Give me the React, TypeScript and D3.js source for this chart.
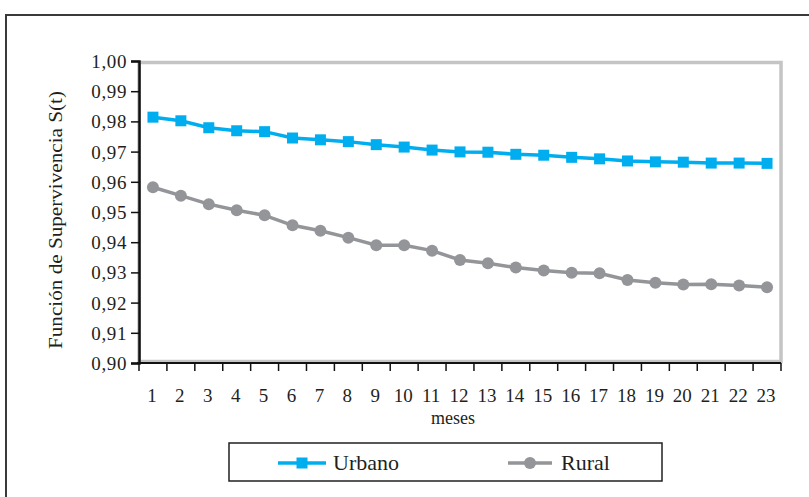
import * as d3 from 'd3';
import { useRef, useEffect } from 'react';

const months = d3.range(1, 24).map(String);
const urbano = [0.9814, 0.9802, 0.9779, 0.9769, 0.9766, 0.9745, 0.9739, 0.9733, 0.9723, 0.9715, 0.9705, 0.9699,
  0.9698, 0.9691, 0.9688, 0.9681, 0.9676, 0.9669, 0.9666, 0.9665, 0.9662, 0.9662, 0.9661];
const rural = [0.9582, 0.9554, 0.9526, 0.9506, 0.9489, 0.9456, 0.9438, 0.9415, 0.939, 0.939, 0.9372, 0.9341,
  0.933, 0.9316, 0.9306, 0.9299, 0.9297, 0.9275, 0.9266, 0.926, 0.9261, 0.9257, 0.9251];
const yTicks = [0.9, 0.91, 0.92, 0.93, 0.94, 0.95, 0.96, 0.97, 0.98, 0.99, 1.0];
const seriesNames = ['Urbano', 'Rural'];

const BLUE = '#00aeef';
const GREY = '#939598';
const FONT = "'Liberation Serif', 'DejaVu Serif', 'Times New Roman', serif";

const Chart = () => {
  const ref: any = useRef();
  const W = 809, H = 497;
  const plot = { left: 139, right: 781, top: 61, bottom: 363 };

  useEffect(() => {
    const svg = d3.select(ref.current);
    svg.selectAll('*').remove();

    const x = d3.scaleBand().domain(months).range([plot.left, plot.right]);
    const y = d3.scaleLinear().domain([0.9, 1.0]).range([plot.bottom, plot.top]);

    // outer frame (runs off the page right and bottom)
    svg.append('path')
      .attr('d', `M6,${H + 5} L6,15 L${W + 5},15`)
      .attr('fill', 'none').attr('stroke', '#3a3a3a').attr('stroke-width', 2);

    // grey plot border
    svg.append('rect')
      .attr('x', plot.left).attr('y', plot.top + 1.5)
      .attr('width', plot.right - plot.left).attr('height', plot.bottom - plot.top - 3)
      .attr('fill', 'none').attr('stroke', '#c4c4c4').attr('stroke-width', 3.5);

    // Y axis
    const yAxis = svg.append('g').attr('transform', `translate(${plot.left},0)`)
      .call(d3.axisLeft(y).tickValues(yTicks).tickSize(8).tickPadding(4)
        .tickFormat((d: any) => d3.format('.2f')(d).replace('.', ',')));
    yAxis.attr('font-family', FONT);
    yAxis.select('.domain').attr('stroke', '#111').attr('stroke-width', 2.5);
    yAxis.selectAll('line').attr('stroke', '#111').attr('stroke-width', 1.5);
    yAxis.selectAll('text')
      .style('font-family', FONT).attr('font-size', 19).attr('fill', '#231f20')
      .attr('letter-spacing', 0.6).attr('dy', '0.34em');

    // X axis: ticks at band edges
    const xAxis = svg.append('g').attr('transform', `translate(0,${plot.bottom})`);
    xAxis.append('line')
      .attr('x1', plot.left - 2).attr('x2', plot.right)
      .attr('stroke', '#111').attr('stroke-width', 2);
    const edges = months.map(m => x(m) as number).concat([plot.right]);
    xAxis.selectAll('line.tick').data(edges).enter().append('line')
      .attr('class', 'tick')
      .attr('x1', d => d).attr('x2', d => d).attr('y1', 0).attr('y2', 8)
      .attr('stroke', '#111').attr('stroke-width', 1.5);
    xAxis.selectAll('text').data(months).enter().append('text')
      .attr('x', d => (x(d) as number) + x.bandwidth() / 2 - 1)
      .attr('y', 39)
      .attr('text-anchor', 'middle')
      .style('font-family', FONT).attr('font-size', 19).attr('fill', '#231f20')
      .text(d => d);

    // axis titles
    svg.append('text')
      .attr('x', 453).attr('y', 424).attr('text-anchor', 'middle')
      .style('font-family', FONT).attr('font-size', 18).attr('fill', '#231f20')
      .text('meses');
    svg.append('text')
      .attr('transform', 'translate(62,220) rotate(-90)')
      .attr('text-anchor', 'middle')
      .style('font-family', FONT).attr('font-size', 18).attr('fill', '#231f20')
      .attr('textLength', 258).attr('lengthAdjust', 'spacingAndGlyphs')
      .text('Función de Supervivencia S(t)');

    const cx = (i: number) => (x(months[i]) as number) + x.bandwidth() / 2;
    const line = d3.line<number>().x((_, i) => cx(i)).y(d => y(d));

    // Rural
    svg.append('path').datum(rural)
      .attr('d', line).attr('fill', 'none').attr('stroke', GREY).attr('stroke-width', 3.5);
    svg.selectAll('circle.rural').data(rural).enter().append('circle')
      .attr('class', 'rural')
      .attr('cx', (_, i) => cx(i)).attr('cy', d => y(d)).attr('r', 6)
      .attr('fill', GREY);

    // Urbano
    svg.append('path').datum(urbano)
      .attr('d', line).attr('fill', 'none').attr('stroke', BLUE).attr('stroke-width', 3.5);
    svg.selectAll('rect.urbano').data(urbano).enter().append('rect')
      .attr('class', 'urbano')
      .attr('x', (_, i) => cx(i) - 5.5).attr('y', d => y(d) - 5.5)
      .attr('width', 11).attr('height', 11)
      .attr('fill', BLUE);

    // legend
    const lg = svg.append('g');
    lg.append('rect')
      .attr('x', 229).attr('y', 443).attr('width', 433).attr('height', 38)
      .attr('fill', 'white').attr('stroke', '#231f20').attr('stroke-width', 1.5);
    const items = [
      { name: seriesNames[0], color: BLUE, x0: 278, x1: 326, tx: 333 },
      { name: seriesNames[1], color: GREY, x0: 508, x1: 552, tx: 561 },
    ];
    items.forEach((it, i) => {
      lg.append('line')
        .attr('x1', it.x0).attr('x2', it.x1).attr('y1', 463).attr('y2', 463)
        .attr('stroke', it.color).attr('stroke-width', 3.5);
      const mid = (it.x0 + it.x1) / 2;
      if (i === 0) {
        lg.append('rect').attr('x', mid - 5.5).attr('y', 457.5).attr('width', 11).attr('height', 11)
          .attr('fill', it.color);
      } else {
        lg.append('circle').attr('cx', mid).attr('cy', 463).attr('r', 6).attr('fill', it.color);
      }
      lg.append('text')
        .attr('x', it.tx).attr('y', 470)
        .style('font-family', FONT).attr('font-size', 22).attr('fill', '#231f20')
        .text(it.name);
    });
  }, []);

  return (
    <svg ref={ref} width={W} height={H}
      style={{ position: 'absolute', left: 0, top: 0, background: 'white' }} />
  );
};

export default function App() {
  return <Chart />;
}
